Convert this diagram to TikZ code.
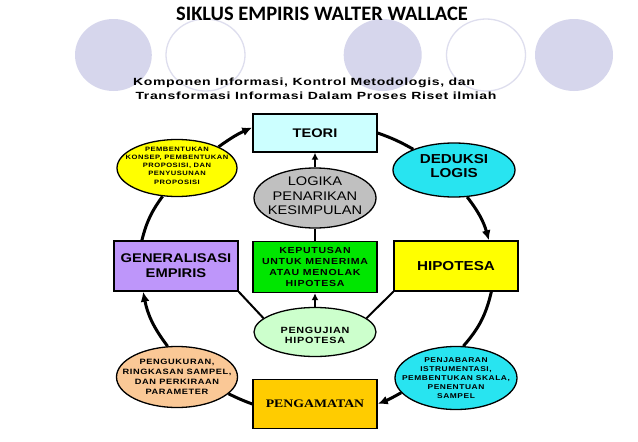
\documentclass[tikz,border=0pt]{standalone}
\usepackage{fontspec}
\setmainfont{Liberation Sans}
\newfontfamily\fA[FakeStretch=1.17]{Liberation Sans}
\newfontfamily\fB[FakeStretch=1.2,LetterSpace=8]{Liberation Sans}
\newfontfamily\fC[FakeStretch=1.35,LetterSpace=6]{Liberation Sans}
\newfontfamily\fS[FakeStretch=1.2]{Liberation Serif}
\newfontfamily\fT{Carlito}
\usetikzlibrary{shapes.geometric,arrows.meta}
\definecolor{decofill}{RGB}{214,214,236}
\definecolor{decoline}{RGB}{222,222,238}
\definecolor{teoricol}{RGB}{204,255,255}
\definecolor{cyancol}{RGB}{40,228,240}
\definecolor{yelcol}{RGB}{255,255,0}
\definecolor{purcol}{RGB}{190,150,250}
\definecolor{graycol}{RGB}{192,192,192}
\definecolor{greencol}{RGB}{0,230,0}
\definecolor{lgreencol}{RGB}{204,255,204}
\definecolor{goldcol}{RGB}{255,204,0}
\definecolor{peachcol}{RGB}{250,200,150}
\begin{document}
\begin{tikzpicture}[x=1pt,y=1pt,
  box/.style={draw=black, line width=1.4pt, rectangle, inner sep=0pt, align=center},
  ell/.style={draw=black, line width=1.3pt, ellipse, inner sep=0pt},
  etx/.style={align=center, inner sep=0pt, text=black},
  cyc/.style={line width=3pt, black},
  cyca/.style={cyc, -{Latex[length=10pt,width=9pt]}},
  inn/.style={line width=2pt, black},
  inna/.style={inn, -{Latex[length=7pt,width=7pt]}},
  bigtxt/.style={font=\fA\bfseries\fontsize{13}{14.8}\selectfont}
]
\fill[white] (0,0) rectangle (638,-442);
\path[use as bounding box] (0,0) rectangle (638,-442);

% decorative circles
\fill[decofill] (113.4,-55) ellipse [x radius=38.4, y radius=36];
\draw[decoline, line width=1.3pt] (205.5,-55) ellipse [x radius=39.5, y radius=36];
\fill[decofill] (382.7,-55) ellipse [x radius=39, y radius=36];
\draw[decoline, line width=1.3pt] (486,-55) ellipse [x radius=39.5, y radius=36];
\fill[decofill] (574,-55) ellipse [x radius=39, y radius=36];

% titles
\node[font=\fT\bfseries\fontsize{20.5}{24}\selectfont, anchor=base, inner sep=0pt] (title) at (322,-20) {SIKLUS EMPIRIS WALTER WALLACE};
\node[font=\fC\bfseries\fontsize{10.4}{14}\selectfont, align=center, inner sep=0pt] (sub) at (316,-89)
  {Komponen Informasi, Kontrol Metodologis, dan\hspace*{24pt}\\Transformasi Informasi Dalam Proses Riset ilmiah};

% main nodes
\node[box, fill=teoricol, minimum width=124pt, minimum height=38pt, font=\fA\bfseries\fontsize{12.5}{14}\selectfont] (teori) at (315,-133) {TEORI};
\node[ell, fill=cyancol, minimum width=122pt, minimum height=54pt,
  label={[etx, bigtxt, yshift=4pt]center:{DEDUKSI\\LOGIS}}] (deduksi) at (454,-170) {};
\node[box, fill=yelcol, minimum width=124pt, minimum height=50pt, bigtxt] (hipotesa) at (456,-266) {HIPOTESA};
\node[ell, fill=cyancol, minimum width=122pt, minimum height=63pt,
  label={[etx, font=\fB\bfseries\fontsize{7}{9}\selectfont]center:{PENJABARAN\\ISTRUMENTASI,\\PEMBENTUKAN SKALA,\\PENENTUAN\\SAMPEL}}] (penjabaran) at (456,-378) {};
\node[box, fill=goldcol, minimum width=124pt, minimum height=49pt, font=\fS\bfseries\fontsize{11.5}{13}\selectfont] (pengamatan) at (315,-404) {PENGAMATAN};
\node[ell, fill=peachcol, minimum width=121pt, minimum height=61pt,
  label={[etx, font=\fB\bfseries\fontsize{7.7}{9.8}\selectfont]center:{PENGUKURAN,\\RINGKASAN SAMPEL,\\DAN PERKIRAAN\\PARAMETER}}] (pengukuran) at (177,-377) {};
\node[box, fill=purcol, minimum width=124pt, minimum height=50pt, font=\fA\bfseries\fontsize{12.6}{15}\selectfont] (generalisasi) at (176,-266) {GENERALISASI\\EMPIRIS};
\node[ell, fill=yelcol, minimum width=120pt, minimum height=57pt,
  label={[etx, yshift=2.5pt, font=\fB\bfseries\fontsize{6.3}{8.2}\selectfont]center:{PEMBENTUKAN\\KONSEP, PEMBENTUKAN\\PROPOSISI, DAN\\PENYUSUNAN\\PROPOSISI}}] (pemb) at (177,-168) {};
\node[ell, fill=graycol, minimum width=122pt, minimum height=60pt,
  label={[etx, yshift=2pt, font=\fA\fontsize{12.5}{14.5}\selectfont]center:{LOGIKA\\PENARIKAN\\KESIMPULAN}}] (logika) at (315,-198) {};
\node[box, fill=greencol, minimum width=124pt, minimum height=51pt, font=\fB\bfseries\fontsize{8.8}{11.3}\selectfont] (keputusan) at (315,-267) {KEPUTUSAN\\UNTUK MENERIMA\\ATAU MENOLAK\\HIPOTESA};
\node[ell, fill=lgreencol, minimum width=122pt, minimum height=49pt,
  label={[etx, yshift=-3.5pt, font=\fB\bfseries\fontsize{9}{10.7}\selectfont]center:{PENGUJIAN\\HIPOTESA}}] (pengujian) at (315,-332) {};

% cycle connectors
\draw[cyca] (pemb.27) to[bend left=6] (teori.175);
\draw[cyc] (teori.east) to[bend left=5] (deduksi.153);
\draw[cyca] (deduksi.-64) to[bend left=11] (hipotesa.38);
\draw[cyc] (hipotesa.-36) to[bend left=14] (penjabaran.77);
\draw[cyca] (penjabaran.195) to[bend left=4] (pengamatan.east);
\draw[cyc] (pengamatan.west) to[bend left=3] (pengukuran.-18);
\draw[cyca] (pengukuran.107) to[bend left=13] (generalisasi.218);
\draw[cyc] (generalisasi.143) to[bend left=11] (pemb.243);

% inner connectors
\draw[inna] (logika.north) -- (teori.south);
\draw[inn] (logika.south) -- (keputusan.north);
\draw[inna] (pengujian.north) -- (keputusan.south);
\draw[inn] (generalisasi.south east) -- (pengujian.165);
\draw[inn] (hipotesa.south west) -- (pengujian.15);
\end{tikzpicture}
\end{document}
